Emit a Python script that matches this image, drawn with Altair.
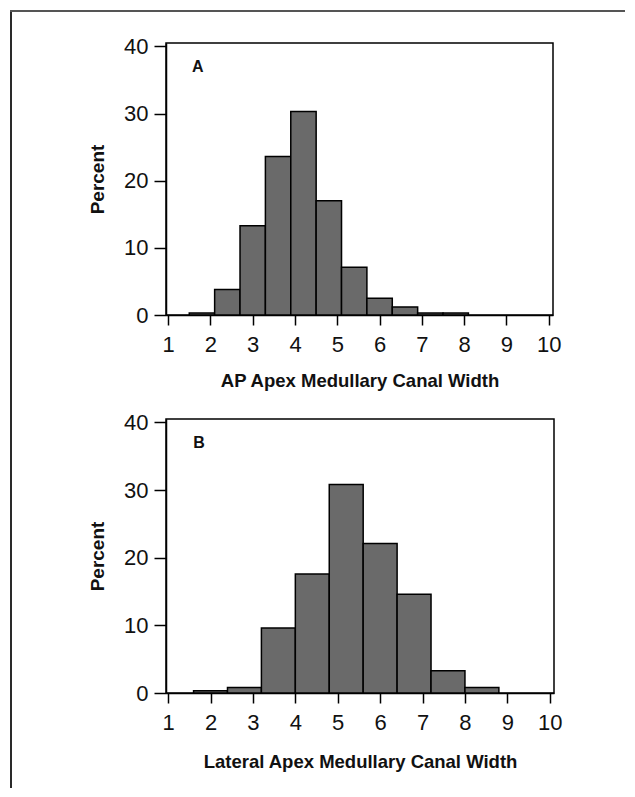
import altair as alt
import pandas as pd

# ---- data ----
a_bin_start = [1.5, 2.1, 2.7, 3.3, 3.9, 4.5, 5.1, 5.7, 6.3, 6.9, 7.5]
a_bin_end = [2.1, 2.7, 3.3, 3.9, 4.5, 5.1, 5.7, 6.3, 6.9, 7.5, 8.1]
a_percent = [0.3, 3.8, 13.3, 23.6, 30.3, 17.0, 7.1, 2.5, 1.2, 0.3, 0.3]

b_bin_start = [1.6, 2.4, 3.2, 4.0, 4.8, 5.6, 6.4, 7.2, 8.0]
b_bin_end = [2.4, 3.2, 4.0, 4.8, 5.6, 6.4, 7.2, 8.0, 8.8]
b_percent = [0.35, 0.8, 9.6, 17.6, 30.8, 22.1, 14.6, 3.3, 0.8]

x_ticks = [1, 2, 3, 4, 5, 6, 7, 8, 9, 10]
y_ticks = [0, 10, 20, 30, 40]
x_titles = ["AP Apex Medullary Canal Width", "Lateral Apex Medullary Canal Width"]
y_title = "Percent"
panel_letters = ["A", "B"]
letter_x = [1.7, 1.73]
letter_y = [37.0, 37.0]

FONT = "Liberation Sans"
BAR_FILL = "#6a6a6a"


def make_panel(starts, ends, pct, xtitle, title_y, letter, lx, ly, w, h,
               border=None):
    df = pd.DataFrame({"start": starts, "end": ends, "percent": pct})
    xscale = alt.Scale(domain=[0.95, 10.1], nice=False, zero=False)
    yscale = alt.Scale(domain=[0, 40.5], nice=False)
    xaxis = alt.Axis(values=x_ticks, title=xtitle, grid=False,
                     tickSize=10, tickWidth=1.5, tickColor="black",
                     domainColor="black", domainWidth=1.5,
                     labelFont=FONT, labelFontSize=22, labelColor="#111",
                     labelPadding=9, labelFlush=False, labelOverlap=False,
                     titleFont=FONT, titleFontSize=18.5, titleFontWeight="bold",
                     titleColor="#111", titleY=title_y, titleBaseline="middle")
    yaxis = alt.Axis(values=y_ticks, title=y_title, grid=False,
                     tickSize=12, tickWidth=1.5, tickColor="black",
                     domainColor="black", domainWidth=1.5,
                     labelFont=FONT, labelFontSize=22, labelColor="#111",
                     labelPadding=6, labelFlush=False, labelOverlap=False,
                     titleFont=FONT, titleFontSize=19, titleFontWeight="bold",
                     titleColor="#111", titleX=-69, titleY=h / 2,
                     titleAngle=270, titleBaseline="middle", titleAlign="center")
    bars = alt.Chart(df).mark_rect(fill=BAR_FILL, stroke="black",
                                   strokeWidth=1.5).encode(
        x=alt.X("start:Q", scale=xscale, axis=xaxis),
        x2="end:Q",
        y=alt.Y("percent:Q", scale=yscale, axis=yaxis),
        y2=alt.datum(0),
    )
    ldf = pd.DataFrame({"x": [lx], "y": [ly], "t": [letter]})
    lab = alt.Chart(ldf).mark_text(font=FONT, fontSize=16, fontWeight="bold",
                                   color="#111").encode(
        x=alt.X("x:Q", scale=xscale), y=alt.Y("y:Q", scale=yscale), text="t:N")
    layers = [bars, lab]
    if border is not None:
        left_off, rule_top, rule_bottom, rule_right = border
        one = pd.DataFrame({"k": [0]})
        left_rule = alt.Chart(one).mark_rule(color="#2a2a2a", strokeWidth=2,
                                             strokeCap="square").encode(
            x=alt.value(left_off), y=alt.value(rule_top),
            y2=alt.value(rule_bottom))
        top_rule = alt.Chart(one).mark_rule(color="#555555", strokeWidth=2,
                                            strokeCap="square").encode(
            x=alt.value(left_off), x2=alt.value(rule_right),
            y=alt.value(rule_top))
        layers += [left_rule, top_rule]
    return alt.layer(*layers).properties(width=w, height=h)


panel_a = make_panel(a_bin_start, a_bin_end, a_percent, x_titles[0], 65,
                     panel_letters[0], letter_x[0], letter_y[0],
                     387, 272, border=(-155, -32, 744, 458))
panel_b = make_panel(b_bin_start, b_bin_end, b_percent, x_titles[1], 68,
                     panel_letters[1], letter_x[1], letter_y[1],
                     388, 274)

chart = alt.vconcat(panel_a, panel_b, spacing=104, bounds="flush").properties(
    padding=0, background="white"
).configure_view(stroke="black", strokeWidth=1.5)

chart.save("out.html", embed_options={"renderer": "svg", "actions": False})
